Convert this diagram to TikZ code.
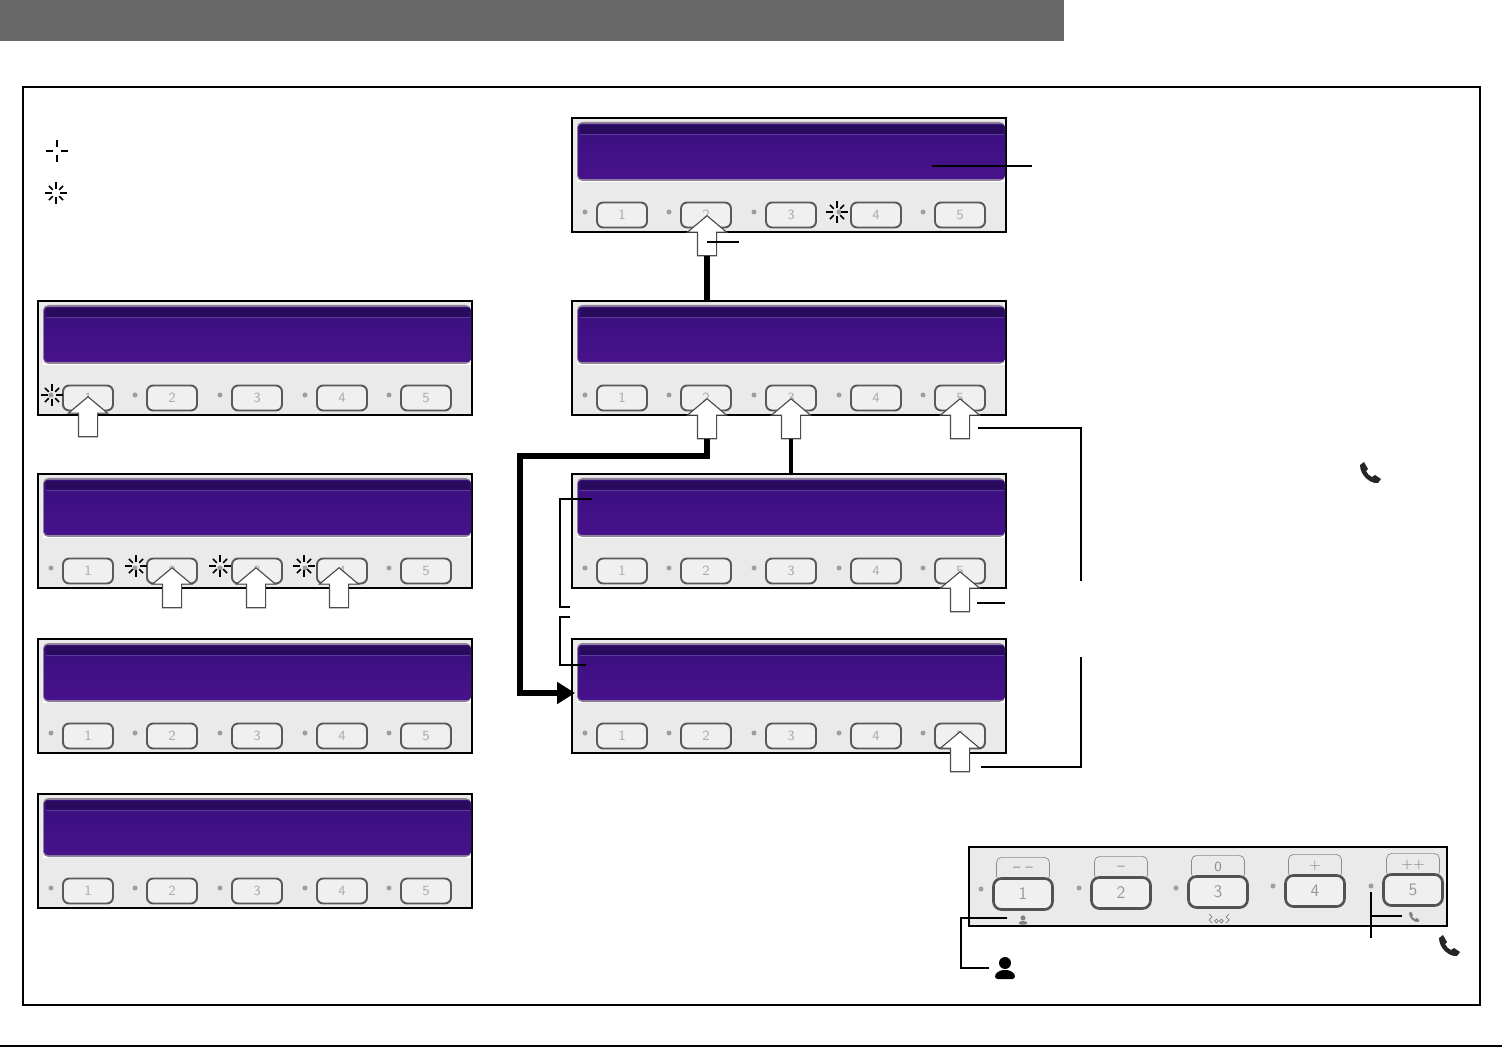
\documentclass[tikz,border=0pt]{standalone}
\usepackage{xcolor}
\usetikzlibrary{arrows.meta,shapes.arrows}
\definecolor{hdrgray}{HTML}{686868}
\definecolor{platecol}{HTML}{EAEAEA}
\definecolor{lcdtop}{HTML}{3A0F7E}
\definecolor{lcdlow}{HTML}{47128C}
\definecolor{lcdband}{HTML}{290B5E}
\definecolor{lcdrim}{HTML}{8F8299}
\definecolor{lcdline}{HTML}{5D3A9E}

\begin{document}
\begin{tikzpicture}[
  x=0.02cm, y=-0.02cm,
  font=\sffamily,
  plate/.style={draw, fill=platecol, line width=1.15pt, outer sep=0pt, anchor=north west, inner sep=0pt, minimum width=434*\u cm, minimum height=114*\u cm},
  keybtn/.style={draw=black!65, fill=white!94!black, line width=1.1pt, rounded corners=3.5pt, inner sep=0pt, minimum width=50*\u cm, minimum height=25*\u cm, text=black!32, font=\sffamily\footnotesize},
  bigkey/.style={keybtn, draw=black!68, line width=1.5pt, rounded corners=4.5pt, minimum width=59*\u cm, minimum height=31*\u cm, text=black!40, font=\sffamily\normalsize},
  keycap/.style={draw=black!45, line width=0.4pt, rounded corners=3pt, inner sep=0pt, anchor=north, minimum width=53*\u cm, minimum height=24*\u cm, text=black!45, font=\sffamily\footnotesize},
  lamp/.style={circle, fill=black!38, inner sep=0pt, minimum size=5*\u cm},
  press/.style={single arrow, draw=black!70, fill=white, line width=0.65pt, inner sep=9*\u cm, anchor=tip, shape border rotate=90, minimum height=40*\u cm, single arrow head extend=10*\u cm, single arrow tip angle=100},
  spoke/.style={line width=0.85pt},
  flow/.style={line width=3.1pt},
  lead/.style={line width=1.15pt},
  pics/phoneicon/.style={code={
    \fill (-10,-8) -- (-6,-11) -- (-2,-4) -- (-4,-2) .. controls (-3,1) and (0,3) .. (2,4) -- (5,2) -- (11,6) -- (8,10) .. controls (0,11) and (-10,2) .. (-10,-8) -- cycle;
  }},
  pics/personicon/.style={code={
    \fill (0,-5) circle (6);
    \fill[rounded corners=1.5pt] (-10,11) -- (-10,6) -- (-4,2) -- (4,2) -- (10,6) -- (10,11) -- cycle;
  }},
]
\def\u{0.02} % 1 px
\useasboundingbox (0,0) rectangle (1502,1047);
% header bar, outer frame, foot rule
\fill[hdrgray] (0,0) rectangle (1064,41);
\draw[line width=1.1pt] (23,87) rectangle (1480,1005);
\draw[line width=1.1pt] (0,1046) -- (1502,1046);
% display panels
\foreach \pname/\px/\py in {pa/572/118,pb/572/301,pc/572/474,pd/572/639,la/38/301,lb/38/474,lc/38/639,ld/38/794}{
  \node[plate] (\pname) at (\px,\py) {};
  \fill[white] (\px+5,\py+8) rectangle (\px+433,\py+64);
  \fill[lcdrim, rounded corners=3pt] (\px+5,\py+4) rectangle (\px+433,\py+63);
  \shade[top color=lcdtop, bottom color=lcdlow, rounded corners=2pt] (\px+6,\py+6) rectangle (\px+433,\py+61);
  \fill[lcdband] (\px+8,\py+7) rectangle (\px+432,\py+16);
  \draw[lcdline, line width=0.5pt] (\px+8,\py+16.5) -- (\px+432,\py+16.5);
  \foreach \k/\c in {1/50,2/134,3/219,4/304,5/388}{
    \node[lamp] (\pname lamp\k) at (\px+\c-37,\py+94) {};
    \node[keybtn] (\pname key\k) at (\px+\c,\py+97) {\k};
  }
}
% keypad with the symbols over the keys
\node[plate, minimum width=478*\u cm, minimum height=79*\u cm] (kp) at (969,847) {};
\foreach \k/\kx/\ky/\cy/\ly/\sym in {1/1023/894/857/889/{-- --},2/1121/893/856/888/{--},3/1218/892/855/888/0,4/1315/891/854/886/+,5/1413/890/853/886/++}{
  \node[keycap] (kcap\k) at (\kx,\cy) {\sym};
  \node[lamp] (klamp\k) at (\kx-42,\ly) {};
  \node[bigkey] (kkey\k) at (\kx,\ky) {\k};
}
\pic[color=black!50, scale=0.42] (kperson) at (1023,920) {personicon};
\pic[color=black!50, scale=0.5] (kphone) at (1414,917) {phoneicon};
\draw[black!50, line width=0.4pt] (1209,914) -- (1212,917) -- (1209,920) -- (1212,923) (1229,914) -- (1226,917) -- (1229,920) -- (1226,923);
\draw[black!50, line width=0.4pt] (1216.5,921) circle (1.8) (1221.5,921) circle (1.8);
\draw[line width=1.15pt] (969,847) rectangle (1447,926);
% legend marks and lit lamps
\foreach \a in {0,90,180,270}{
  \draw[spoke] ([shift={(\a:4)}]57,151) -- ([shift={(\a:11)}]57,151);
}
\foreach \bx/\by in {56/193,837/212,52/395,136/566,220/566,304/566}{
  \foreach \a in {0,90,180,270}{
    \draw[spoke] ([shift={(\a:4)}]\bx,\by) -- ([shift={(\a:11)}]\bx,\by);
  }
  \foreach \a in {45,135,225,315}{
    \draw[spoke] ([shift={(\a:4.5)}]\bx,\by) -- ([shift={(\a:10)}]\bx,\by);
  }
}
% press arrows
\foreach \aname/\ax/\ay in {aa/707/215,ab/707/398,ac/791/398,ad/960/398,ae/960/571,af/960/731,ag/88/396,ah/172/567,ai/256/567,aj/339/567}{
  \node[press] (\aname) at (\ax,\ay) {};
}
% thick flow lines
\coordinate (flowturn) at (520,456);
\coordinate (pdin) at (575,693);
\draw[flow] (aa.tail) -- (aa.tail |- pb.north);
\draw[flow, line join=miter, -{Triangle[length=10.2pt,width=12pt]}] (ab.tail) |- (flowturn) |- (pdin);
\draw[flow, line width=2.6pt] (ac.tail) -- (ac.tail |- pc.north);
% leader lines
\coordinate (l1a) at (932,166);
\coordinate (l1b) at (1032,166);
\coordinate (l2a) at (707,242);
\coordinate (l2b) at (739,242);
\coordinate (l3a) at (978,428);
\coordinate (l3b) at (1081,581);
\coordinate (l4a) at (977,603);
\coordinate (l4b) at (1005,603);
\coordinate (l5a) at (1081,657);
\coordinate (l5b) at (981,767);
\coordinate (l6a) at (592,499);
\coordinate (l6c) at (560,553);
\coordinate (l6b) at (570,607);
\coordinate (l7a) at (570,617);
\coordinate (l7b) at (586,665);
\coordinate (l8a) at (1007,918);
\coordinate (l8b) at (989,968);
\coordinate (l8c) at (961,943);
\coordinate (l9a) at (1371,892);
\coordinate (l9b) at (1371,938);
\coordinate (l9c) at (1402,916);
\draw[lead] (l1a) -- (l1b);
\draw[lead] (l2a) -- (l2b);
\draw[lead] (l3a) -| (l3b);
\draw[lead] (l4a) -- (l4b);
\draw[lead] (l5a) |- (l5b);
\draw[lead] (l6a) -| (l6c) |- (l6b);
\draw[lead] (l7a) -| (l6c |- l7b) -- (l7b);
\draw[lead] (l8a) -| (l8c) |- (l8b);
\draw[lead, line width=0.8pt] (l9a) -- (l9b);
\draw[lead, line width=0.8pt] (l9a |- l9c) -- (l9c);
% loose icons
\pic[color=black] (bigperson) at (1005,968) {personicon};
\pic[color=black!85] (phonea) at (1370,473) {phoneicon};
\pic[color=black!85] (phoneb) at (1449,946) {phoneicon};
\end{tikzpicture}
\end{document}
